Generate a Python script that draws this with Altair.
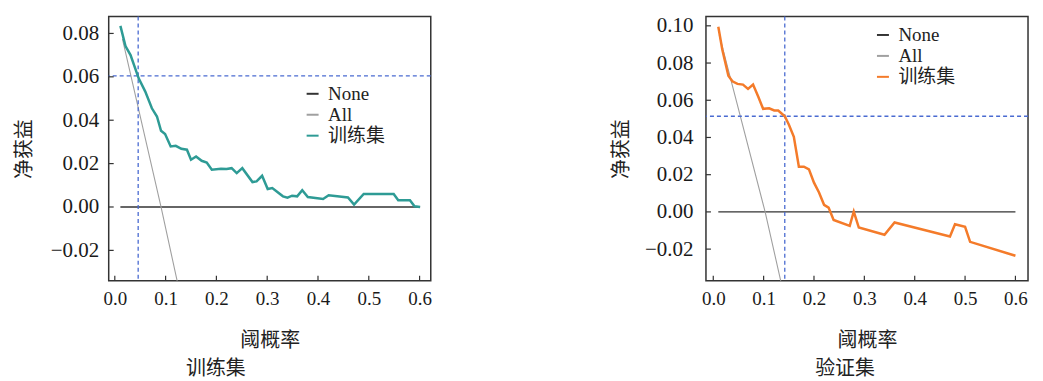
import altair as alt
import pandas as pd

# ---------------- data ----------------
series_names = ["None", "All", "训练集"]

# training set panel
train_t = [0.011, 0.021, 0.031, 0.047, 0.060, 0.073, 0.083, 0.091, 0.099, 0.110,
           0.120, 0.131, 0.142, 0.150, 0.160, 0.171, 0.181, 0.191, 0.209, 0.220,
           0.230, 0.240, 0.251, 0.271, 0.279, 0.290, 0.301, 0.310, 0.331, 0.340,
           0.349, 0.359, 0.369, 0.380, 0.410, 0.421, 0.459, 0.471, 0.490, 0.549,
           0.558, 0.581, 0.590, 0.601]
train_nb = [0.0835, 0.0742, 0.0700, 0.0593, 0.0532, 0.0455, 0.0417, 0.0351, 0.0336, 0.0279,
            0.0282, 0.0268, 0.0264, 0.0218, 0.0233, 0.0213, 0.0205, 0.0172, 0.0176, 0.0175,
            0.0179, 0.0156, 0.0179, 0.0115, 0.0118, 0.0144, 0.0083, 0.0087, 0.0049, 0.0043,
            0.0052, 0.0049, 0.0077, 0.0046, 0.0037, 0.0054, 0.0044, 0.0011, 0.0060, 0.0060,
            0.0031, 0.0031, 0.0003, 0.0000]
train_all_t = [0.015, 0.091, 0.125]
train_all_nb = [0.0775, 0.0, -0.0365]
train_none_t = [0.011, 0.601]
train_none_nb = [0.0, 0.0]
train_vline = 0.046
train_hline = 0.0604

# validation set panel
valid_t = [0.010, 0.018, 0.030, 0.038, 0.048, 0.059, 0.069, 0.079, 0.089, 0.099,
           0.111, 0.121, 0.129, 0.142, 0.150, 0.160, 0.170, 0.180, 0.190, 0.200,
           0.210, 0.220, 0.229, 0.239, 0.271, 0.279, 0.289, 0.340, 0.360, 0.470,
           0.480, 0.500, 0.510, 0.600]
valid_nb = [0.0995, 0.0871, 0.0732, 0.0702, 0.0688, 0.0684, 0.0661, 0.0684, 0.0621, 0.0554,
            0.0557, 0.0545, 0.0545, 0.0514, 0.0470, 0.0404, 0.0243, 0.0243, 0.0229, 0.0157,
            0.0104, 0.0038, 0.0023, -0.0043, -0.0075, 0.0002, -0.0084, -0.0123, -0.0057, -0.0132,
            -0.0066, -0.0080, -0.0161, -0.0236]
valid_all_t = [0.012, 0.103, 0.136]
valid_all_nb = [0.0950, 0.0, -0.0395]
valid_none_t = [0.010, 0.600]
valid_none_nb = [0.0, 0.0]
valid_vline = 0.142
valid_hline = 0.0514

x_ticks = [0.0, 0.1, 0.2, 0.3, 0.4, 0.5, 0.6]
train_y_ticks = [-0.02, 0.0, 0.02, 0.04, 0.06, 0.08]
valid_y_ticks = [-0.02, 0.0, 0.02, 0.04, 0.06, 0.08, 0.10]

train_x_domain = [-0.012, 0.622]
train_y_domain = [-0.034, 0.0878]
valid_x_domain = [-0.0145, 0.625]
valid_y_domain = [-0.037, 0.105]

W, H = 323, 265
SERIF = "Liberation Serif"
CJK = "Noto Sans CJK SC"
LEG_FONT = "'Liberation Serif', 'Noto Sans CJK SC', serif"
DASH_COLOR = "#4a6bd1"


def panel(t, nb, all_t, all_nb, none_t, none_nb, vline, hline, y_ticks,
          xdom, ydom, color, title, title_dx, legend_x, legend_y,
          label_pad, title_pad):
    none_df = pd.DataFrame({"t": none_t, "nb": none_nb, "s": "None"})
    all_df = pd.DataFrame({"t": all_t, "nb": all_nb, "s": "All"})
    cur_df = pd.DataFrame({"t": t, "nb": nb, "s": "训练集"})

    xs = alt.Scale(domain=xdom, nice=False, zero=False)
    ys = alt.Scale(domain=ydom, nice=False, zero=False)

    xaxis = alt.Axis(values=x_ticks, format=".1f", labelPadding=9, title="阈概率",
                     titlePadding=22, labelFlush=False, labelFontSize=19)
    yaxis = alt.Axis(values=y_ticks, format=".2f", labelPadding=label_pad, title="净获益",
                     titlePadding=title_pad, labelFontSize=21)

    X = alt.X("t:Q", scale=xs, axis=xaxis)
    Y = alt.Y("nb:Q", scale=ys, axis=yaxis)

    cscale = alt.Scale(domain=series_names, range=["#333333", "#a0a0a0", color])
    legend = alt.Legend(orient="none", legendX=legend_x, legendY=legend_y,
                        title=None, symbolType="stroke", symbolSize=144,
                        symbolStrokeWidth=2, labelFont=LEG_FONT,
                        labelFontSize=19, labelColor="#222",
                        rowPadding=1, padding=0, labelOffset=6)

    def line(df, width):
        return alt.Chart(df).mark_line(clip=True, strokeWidth=width).encode(
            x=X, y=Y,
            color=alt.Color("s:N", scale=cscale, sort=series_names, legend=legend),
            order=alt.Order("t:Q"),
        )

    l_none = line(none_df, 1.4)
    l_all = line(all_df, 1.1)
    l_cur = line(cur_df, 2.5)

    hl = alt.Chart(pd.DataFrame({"nb": [hline]})).mark_rule(
        color=DASH_COLOR, strokeDash=[4, 3], strokeWidth=1.3).encode(y=Y)
    vl = alt.Chart(pd.DataFrame({"t": [vline]})).mark_rule(
        color=DASH_COLOR, strokeDash=[4, 3], strokeWidth=1.3).encode(x=X)

    xt = alt.Chart(pd.DataFrame({"t": x_ticks})).mark_rule(color="#333", strokeWidth=1.2).encode(
        x=X, y=alt.value(H), y2=alt.value(H - 5))
    yt = alt.Chart(pd.DataFrame({"nb": y_ticks})).mark_rule(color="#333", strokeWidth=1.2).encode(
        y=Y, x=alt.value(0), x2=alt.value(5))

    return alt.layer(l_none, l_all, hl, vl, l_cur, xt, yt).properties(
        width=W, height=H,
        title=alt.TitleParams(title, orient="bottom", font=CJK, fontSize=20, fontWeight="normal",
                              color="#222", dx=title_dx, offset=9),
    )


left = panel(train_t, train_nb, train_all_t, train_all_nb, train_none_t, train_none_nb,
             train_vline, train_hline, train_y_ticks, train_x_domain, train_y_domain,
             "#2e9b95", "训练集", -54, 195, 68, 10, 16)
right = panel(valid_t, valid_nb, valid_all_t, valid_all_nb, valid_none_t, valid_none_nb,
              valid_vline, valid_hline, valid_y_ticks, valid_x_domain, valid_y_domain,
              "#f47b2a", "验证集", -22, 168, 9, 13, 13)

chart = alt.hconcat(left, right, spacing=178).resolve_scale(
    color="independent", x="independent", y="independent"
).resolve_legend(color="independent").properties(
    padding={"left": 5, "top": 5, "right": 5, "bottom": 0},
    background="white",
).configure_view(
    stroke="#333333", strokeWidth=1.5
).configure_axis(
    labelFont=SERIF, labelFontSize=20, labelColor="#1a1a1a",
    titleFont=CJK, titleFontSize=20, titleFontWeight="normal", titleColor="#222",
    ticks=False, domain=False, grid=False,
)

chart.save("out.html", embed_options={"renderer": "svg", "actions": False})
